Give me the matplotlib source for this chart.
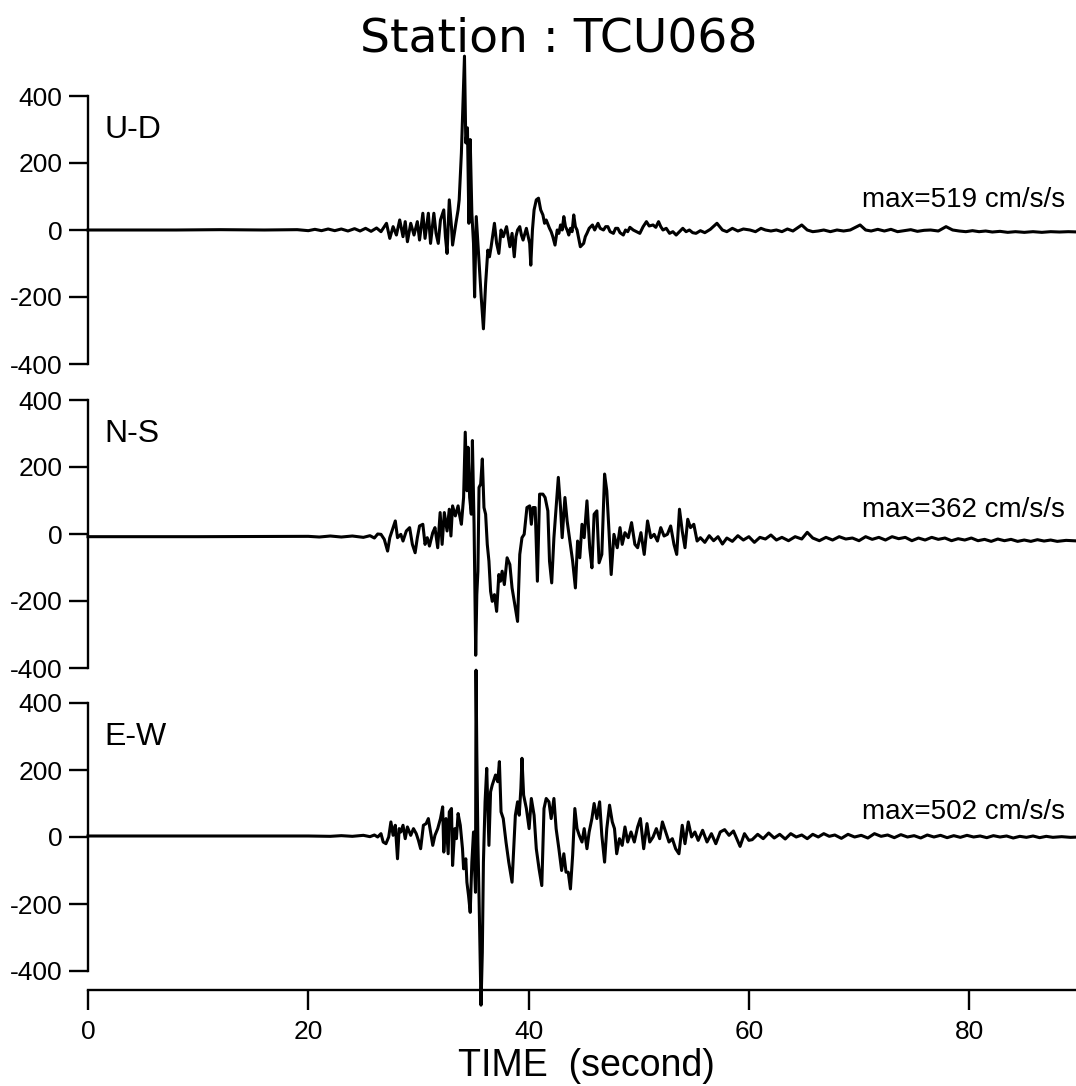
import matplotlib
matplotlib.use("Agg")
import matplotlib.pyplot as plt

plt.rcParams['font.family'] = ['Liberation Sans', 'DejaVu Sans']
plt.rcParams['axes.unicode_minus'] = False

station = "TCU068"
components = ["U-D", "N-S", "E-W"]
peaks = [519, 362, 502]
y_ticks = [-400, -200, 0, 200, 400]
x_ticks = [0, 20, 40, 60, 80]

# U-D acceleration (cm/s/s)
ud_time = [
    0, 8, 12, 16, 19, 20, 20.6, 21.2, 21.8, 22.4,
    23.0, 23.6, 24.2, 24.7, 25.2, 25.7, 26.2, 26.6, 27.1, 27.4,
    27.7, 28.0, 28.3, 28.6, 28.8, 29.0, 29.3, 29.6, 29.9, 30.1,
    30.4, 30.6, 30.9, 31.1, 31.4, 31.6, 31.8, 32.0, 32.3, 32.45,
    32.6, 32.8, 33.0, 33.1, 33.4, 33.6, 33.7, 33.9, 34.05, 34.18,
    34.3, 34.45, 34.58, 34.7, 34.85, 35.0, 35.1, 35.25, 35.4, 35.55,
    35.7, 35.9, 36.1, 36.3, 36.45, 36.6, 36.9, 37.1, 37.3, 37.5,
    37.7, 38.0, 38.3, 38.5, 38.7, 38.85, 39.0, 39.2, 39.35, 39.5,
    39.8, 40.1, 40.2, 40.35, 40.5, 40.7, 40.9, 41.1, 41.3, 41.45,
    41.6, 41.9, 42.05, 42.2, 42.4, 42.6, 42.75, 42.9, 43.05, 43.2,
    43.35, 43.5, 43.65, 43.8, 43.95, 44.1, 44.25, 44.4, 44.55, 44.7,
    45.0, 45.15, 45.3, 45.5, 45.8, 46.0, 46.3, 46.5, 46.8, 47.0,
    47.2, 47.4, 47.7, 47.9, 48.1, 48.3, 48.6, 48.8, 49.0, 49.2,
    49.5, 49.8, 50.1, 50.4, 50.7, 50.95, 51.3, 51.55, 51.8, 52.0,
    52.2, 52.5, 52.8, 53.1, 53.4, 53.7, 54.0, 54.3, 54.6, 54.9,
    55.2, 55.6, 56.0, 56.5, 57.1, 57.6, 58.0, 58.5, 59.0, 59.5,
    60.1, 60.6, 61.1, 61.5, 62.0, 62.5, 63.0, 63.5, 64.0, 64.8,
    65.3, 65.8, 66.3, 66.8, 67.4, 68.0, 68.6, 69.2, 70.1, 70.6,
    71.1, 71.7, 72.3, 72.9, 73.5, 74.1, 74.7, 75.3, 75.9, 76.5,
    77.2, 77.9, 78.5, 79.1, 79.7, 80.3, 80.9, 81.5, 82.1, 82.8,
    83.5, 84.2, 85.0, 85.8, 86.6, 87.4, 88.2, 89.0, 90.0,
]
ud_acc = [
    0, 0, 1, 0, 1, -2, 2, -2, 3, -2,
    3, -3, 4, -3, 5, -4, 6, -5, 20, -25,
    10, -15, 30, -20, 25, -35, 20, -15, 25, -30,
    50, -25, 50, -40, 50, -10, -40, 30, 60, -20,
    -70, 90, 10, -45, 20, 60, 90, 230, 380, 519,
    260, 305, 20, 270, 50, -40, -200, 40, -40, -120,
    -200, -295, -160, -60, -80, -50, 20, -40, -70, 0,
    -20, 10, -50, -10, -80, -20, 0, 10, -15, -30,
    5, -40, -105, 0, 60, 90, 95, 60, 45, 20,
    30, 5, -5, -20, -45, 0, -10, 15, 0, 40,
    10, 0, -15, 5, -5, 45, 10, 0, -25, -50,
    -40, -20, -10, 5, 15, 0, 20, 5, 0, 10,
    10, -5, -10, 5, 5, -8, -15, 0, -5, 8,
    0, -5, -10, 10, 25, 12, 15, 8, 25, 10,
    0, 5, -10, -5, -15, -5, 5, -5, 0, -8,
    -10, -2, -8, 2, 20, 0, -5, 5, -3, 3,
    0, -5, 5, 0, -3, 0, -5, 3, -3, 15,
    0, -5, -3, 0, -5, 0, -3, 0, 15, 0,
    -3, 2, -3, 2, -5, -2, 1, -4, -1, 0,
    -3, 10, 0, -3, -5, -2, -5, -3, -6, -4,
    -7, -5, -7, -5, -7, -5, -6, -5, -6,
]

# N-S acceleration (cm/s/s)
ns_time = [
    0, 10, 20, 21, 22, 23, 24, 25, 25.6, 26.0,
    26.3, 26.6, 26.9, 27.2, 27.4, 27.6, 27.9, 28.1, 28.4, 28.6,
    28.9, 29.2, 29.45, 29.7, 29.9, 30.1, 30.4, 30.6, 30.8, 31.0,
    31.3, 31.5, 31.75, 31.97, 32.15, 32.35, 32.6, 32.8, 32.95, 33.1,
    33.35, 33.6, 33.75, 33.9, 34.1, 34.25, 34.4, 34.5, 34.65, 34.8,
    34.9, 35.05, 35.2, 35.3, 35.4, 35.5, 35.65, 35.8, 35.95, 36.1,
    36.25, 36.4, 36.55, 36.7, 36.9, 37.1, 37.3, 37.45, 37.6, 37.8,
    38.05, 38.3, 38.5, 38.75, 39.0, 39.2, 39.4, 39.6, 39.85, 40.1,
    40.25, 40.4, 40.6, 40.8, 41.0, 41.3, 41.5, 41.75, 41.9, 42.1,
    42.3, 42.5, 42.7, 42.9, 43.05, 43.3, 43.5, 43.75, 44.0, 44.25,
    44.45, 44.65, 44.85, 45.05, 45.3, 45.55, 45.75, 45.95, 46.2, 46.4,
    46.65, 46.9, 47.1, 47.3, 47.5, 47.75, 48.05, 48.3, 48.5, 48.75,
    49.05, 49.35, 49.65, 49.9, 50.2, 50.5, 50.8, 51.1, 51.4, 51.7,
    52.0, 52.3, 52.6, 52.9, 53.2, 53.45, 53.7, 53.95, 54.2, 54.45,
    54.7, 55.0, 55.3, 55.6, 56.0, 56.4, 56.8, 57.2, 57.6, 58.0,
    58.5, 59.0, 59.5, 60.0, 60.5, 61.0, 61.5, 62.0, 62.5, 63.0,
    63.6, 64.2, 64.8, 65.3, 65.8, 66.4, 67.0, 67.6, 68.2, 68.8,
    69.4, 70.0, 70.6, 71.2, 71.8, 72.4, 73.0, 73.6, 74.2, 74.8,
    75.4, 76.0, 76.6, 77.2, 77.8, 78.4, 79.0, 79.6, 80.2, 80.8,
    81.4, 82.0, 82.6, 83.2, 83.8, 84.4, 85.0, 85.6, 86.2, 86.8,
    87.4, 88.0, 88.8, 90.0,
]
ns_acc = [
    -8, -8, -7, -9, -6, -9, -6, -10, -5, -12,
    0, -1, -16, -51, -11, 9, 39, -11, -1, -21,
    9, 19, -31, -56, -11, 24, 29, -31, -11, -36,
    4, 19, -41, 64, -31, 64, 9, 74, -6, 84,
    54, 84, 54, 29, 109, 304, 129, 259, 109, 59,
    279, 29, -362, -181, -111, 139, 149, 224, 79, 59,
    -31, -81, -171, -201, -181, -231, -121, -141, -111, -151,
    -71, -91, -161, -211, -261, -61, -11, -1, 79, 84,
    29, 79, 79, -141, 119, 119, 109, 69, -81, -146,
    -11, 79, 169, 79, -11, 109, 39, -21, -81, -161,
    -21, -71, 29, -11, 99, -41, -101, 59, 69, -86,
    -61, 179, 129, 9, -121, -1, -41, 19, -31, 4,
    -11, 34, -31, -41, 4, -61, 39, -11, -1, -21,
    19, -6, -1, 24, -31, -61, 74, 9, -41, 44,
    19, 29, -21, -11, -25, -5, -20, -8, -30, -12,
    -22, -5, -18, -8, -25, -10, -15, -3, -18, -10,
    -20, -8, -15, 5, -12, -20, -10, -18, -8, -15,
    -12, -20, -8, -16, -10, -18, -8, -14, -10, -20,
    -12, -18, -10, -16, -12, -20, -14, -18, -12, -20,
    -16, -22, -15, -20, -16, -22, -18, -22, -17, -21,
    -18, -22, -19, -21,
]

# E-W acceleration (cm/s/s)
ew_time = [
    0, 10, 20, 22, 23, 24, 25, 25.6, 26.0, 26.3,
    26.6, 26.8, 27.05, 27.3, 27.5, 27.7, 27.9, 28.1, 28.25, 28.4,
    28.6, 28.8, 29.0, 29.3, 29.55, 29.8, 30.0, 30.2, 30.45, 30.7,
    30.9, 31.1, 31.3, 31.5, 31.75, 32.0, 32.2, 32.3, 32.5, 32.7,
    32.8, 33.0, 33.1, 33.3, 33.45, 33.6, 33.8, 34.0, 34.1, 34.3,
    34.4, 34.55, 34.7, 34.85, 35.0, 35.1, 35.18, 35.23, 35.3, 35.4,
    35.5, 35.6, 35.68, 35.8, 35.9, 36.05, 36.2, 36.4, 36.55, 36.7,
    37.0, 37.2, 37.35, 37.5, 37.7, 37.95, 38.2, 38.5, 38.65, 38.8,
    39.0, 39.15, 39.3, 39.4, 39.55, 39.8, 40.05, 40.25, 40.5, 40.7,
    40.95, 41.2, 41.4, 41.6, 41.85, 42.05, 42.3, 42.5, 42.75, 43.0,
    43.2, 43.4, 43.6, 43.8, 44.0, 44.2, 44.4, 44.6, 44.85, 45.05,
    45.3, 45.5, 45.75, 45.95, 46.2, 46.45, 46.65, 46.9, 47.1, 47.35,
    47.6, 47.8, 48.0, 48.25, 48.5, 48.75, 49.0, 49.3, 49.6, 49.9,
    50.15, 50.45, 50.75, 51.0, 51.3, 51.6, 51.9, 52.15, 52.45, 52.75,
    53.05, 53.35, 53.65, 53.95, 54.2, 54.5, 54.8, 55.1, 55.4, 55.8,
    56.2, 56.6, 57.0, 57.4, 57.8, 58.2, 58.6, 59.2, 59.6, 60.0,
    60.3, 60.8, 61.3, 61.8, 62.3, 62.8, 63.3, 63.8, 64.3, 64.8,
    65.3, 65.8, 66.3, 66.8, 67.3, 67.8, 68.4, 69.0, 69.6, 70.2,
    70.8, 71.4, 72.0, 72.6, 73.2, 73.8, 74.4, 75.0, 75.6, 76.2,
    76.8, 77.4, 78.0, 78.6, 79.2, 79.8, 80.4, 81.0, 81.6, 82.2,
    82.8, 83.4, 84.0, 84.6, 85.2, 85.8, 86.4, 87.0, 87.6, 88.4,
    89.2, 90.0,
]
ew_acc = [
    3, 3, 3, 2, 4, 2, 5, 1, 6, 0,
    10, -15, -20, 0, 45, 5, 35, -65, 25, 15,
    35, -5, 30, 5, 25, 10, -10, -35, 35, 40,
    55, 15, -25, 5, 25, 55, 90, -45, 55, -50,
    75, 85, -85, 25, -5, 70, 35, -35, -95, -65,
    -135, -175, -225, -75, 15, -95, -165, 498, 255, -15,
    -175, -355, -502, -345, -75, 105, 205, -25, 135, 155,
    185, 165, 225, 75, 55, -15, -75, -135, -35, 65,
    105, 65, 145, 235, 125, 85, 25, 115, 65, -35,
    -95, -145, 85, 115, 105, 55, 115, 25, -35, -100,
    -50, -105, -105, -155, -55, 85, 25, 5, -15, 25,
    -35, 15, 55, 100, 55, 105, 5, -75, 25, 95,
    45, 25, -50, -5, -25, 30, -15, 15, -15, 30,
    55, -35, 40, -15, 0, 25, -5, 45, 15, -15,
    -5, -35, -50, 35, -20, 45, 0, 15, -10, 20,
    -15, 10, -20, 15, 22, 5, 18, -28, 10, -10,
    -8, 8, -5, 12, -3, 8, -6, 10, 0, 6,
    -5, 8, 0, 10, 2, 6, -4, 8, 0, 5,
    -3, 10, 2, 6, -2, 7, 0, 4, -3, 6,
    0, 5, -2, 4, -1, 5, 0, 3, -2, 4,
    0, 3, -3, 2, -1, 3, -2, 2, -1, 1,
    -1, 0,
]

traces = [(ud_time, ud_acc), (ns_time, ns_acc), (ew_time, ew_acc)]

W, H = 1076, 1086
fig = plt.figure(figsize=(W / 100, H / 100), dpi=100)

left = 88 / W
panel_h = 268 / H
panel_tops = [96, 400, 703]
max_label_y = [0.612, 0.590, 0.593]

for i, (name, peak, (t, acc)) in enumerate(zip(components, peaks, traces)):
    bottom = 1 - (panel_tops[i] + 268) / H
    ax = fig.add_axes([left, bottom, 1 - left, panel_h])
    ax.plot(t, acc, color='black', lw=2.2, clip_on=False)
    ax.set_xlim(0, 89.7)
    ax.set_ylim(-400, 400)
    ax.set_yticks(y_ticks)
    ax.set_xticks(x_ticks)
    ax.spines['top'].set_visible(False)
    ax.spines['right'].set_visible(False)
    ax.spines['left'].set_linewidth(1.7)
    ax.tick_params(axis='y', direction='out', length=13.5, width=1.7,
                   labelsize=19, pad=5)
    ax.patch.set_alpha(0)

    if i < 2:
        ax.spines['bottom'].set_visible(False)
        ax.tick_params(axis='x', bottom=False, labelbottom=False)
    else:
        ax.spines['bottom'].set_position(('outward', 13.7))
        ax.spines['bottom'].set_linewidth(1.7)
        ax.tick_params(axis='x', direction='out', length=14.4, width=1.7,
                       labelsize=19, pad=7)

    ax.text(0.017, 0.873, name, transform=ax.transAxes, fontsize=23,
            ha='left', va='center')
    ax.text(0.989, max_label_y[i], f"max={peak} cm/s/s",
            transform=ax.transAxes, fontsize=20, ha='right', va='center')

fig.text(559 / W, 1 - 52 / H, f"Station : {station}", fontsize=34,
         family='DejaVu Sans', ha='center', va='baseline')
fig.text(586 / W, 1 - 1066 / H, "TIME  (second)", fontsize=27,
         ha='center', va='center')

fig.savefig("out.png", dpi=100)
